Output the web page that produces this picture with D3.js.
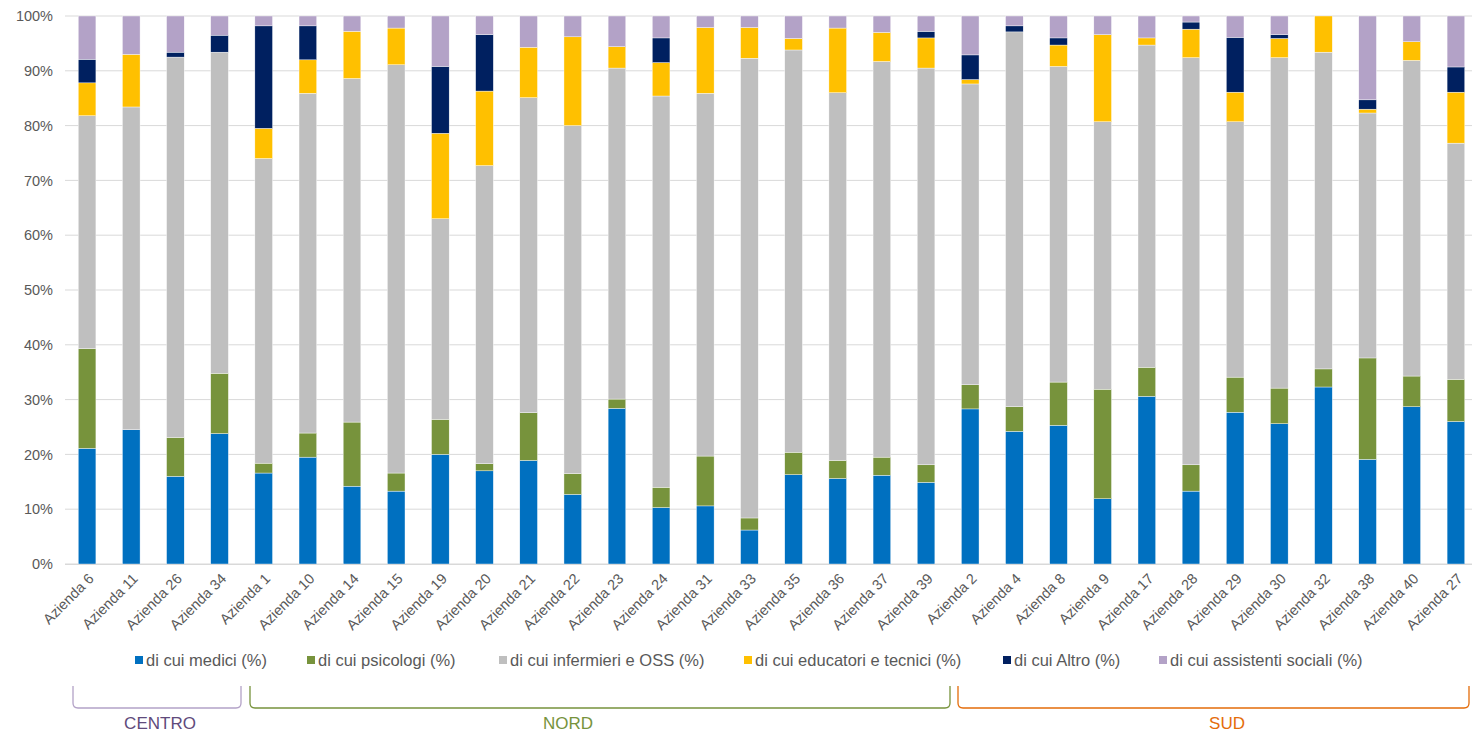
<!DOCTYPE html>
<html>
<head>
<meta charset="utf-8">
<script src="https://cdn.jsdelivr.net/npm/d3@7"></script>
<style>
  body { margin: 0; background: #fff; }
  text { font-family: "Liberation Sans", Arial, sans-serif; }
</style>
</head>
<body>
<div id="chart"></div>
<script>
// categories and series (percent of staff)
var categories = ["Azienda 6","Azienda 11","Azienda 26","Azienda 34","Azienda 1","Azienda 10","Azienda 14","Azienda 15","Azienda 19","Azienda 20","Azienda 21","Azienda 22","Azienda 23","Azienda 24","Azienda 31","Azienda 33","Azienda 35","Azienda 36","Azienda 37","Azienda 39","Azienda 2","Azienda 4","Azienda 8","Azienda 9","Azienda 17","Azienda 28","Azienda 29","Azienda 30","Azienda 32","Azienda 38","Azienda 40","Azienda 27"];
var medici     = [21.1,24.5,16.0,23.8,16.6,19.5,14.2,13.3,20.0,17.0,18.9,12.7,28.4,10.3,10.6,6.2,16.3,15.6,16.2,14.9,28.3,24.2,25.3,11.9,30.6,13.3,27.7,25.6,32.3,19.1,28.7,26.0];
var psicologi  = [18.2,0,7.1,11.0,1.8,4.4,11.7,3.3,6.4,1.3,8.7,3.8,1.7,3.7,9.1,2.2,4.1,3.3,3.3,3.2,4.4,4.5,7.9,20.0,5.3,4.8,6.4,6.5,3.3,18.5,5.6,7.7];
var infermieri = [42.5,58.9,69.4,58.6,55.6,62.0,62.7,74.5,36.6,54.4,57.5,63.5,60.4,71.4,66.2,83.9,73.4,67.1,72.2,72.4,54.9,68.4,57.6,48.8,58.8,74.3,46.6,60.3,57.8,44.7,57.6,43.1];
var educatori  = [6.0,9.6,0,0,5.5,6.1,8.6,6.7,15.6,13.6,9.2,16.2,3.9,6.1,12.0,5.6,2.1,11.8,5.3,5.5,0.8,0,3.9,15.9,1.3,5.2,5.4,3.5,6.6,0.7,3.4,9.3];
var altro      = [4.3,0,0.9,3.1,18.7,6.2,0,0,12.2,10.3,0,0,0,4.5,0,0,0,0,0,1.2,4.5,1.1,1.3,0,0,1.3,10.0,0.7,0,1.7,0,4.6];
var assistenti = [7.9,7.0,6.6,3.5,1.8,1.8,2.8,2.2,9.2,3.4,5.7,3.8,5.6,4.0,2.1,2.1,4.1,2.2,3.0,2.8,7.1,1.8,4.0,3.4,4.0,1.1,3.9,3.4,0,15.3,4.7,9.3];

var seriesNames = ["di cui medici (%)","di cui psicologi (%)","di cui infermieri e OSS (%)","di cui educatori e tecnici (%)","di cui Altro (%)","di cui assistenti sociali (%)"];
var seriesColors = ["#0070C0","#77933C","#BFBFBF","#FFC000","#002060","#B3A2C7"];
var yTicks = [0,0.1,0.2,0.3,0.4,0.5,0.6,0.7,0.8,0.9,1];

// regional groups
var groupNames = ["CENTRO","NORD","SUD"];
var groupLine = ["#B3A2C7","#77933C","#E46C0A"];
var groupText = ["#604A7B","#77933C","#E46C0A"];

var W = 1472, H = 733;
var svg = d3.select("#chart").append("svg").attr("width", W).attr("height", H);

var seriesArrays = [medici, psicologi, infermieri, educatori, altro, assistenti];
var rows = categories.map(function(c, i) {
    var r = {cat: c};
    seriesNames.forEach(function(s, k) { r[s] = seriesArrays[k][i]; });
    return r;
});

var stack = d3.stack().keys(seriesNames).offset(d3.stackOffsetExpand);
var stacked = stack(rows);

var x = d3.scaleBand().domain(categories).range([65, 1478]).paddingInner(0.6).paddingOuter(0.3);
var y = d3.scaleLinear().domain([0, 1]).range([564, 16]);

// gridlines
svg.append("g").selectAll("line").data(yTicks).enter().append("line")
    .attr("x1", 65).attr("x2", W)
    .attr("y1", function(d) { return y(d); }).attr("y2", function(d) { return y(d); })
    .attr("stroke", "#D9D9D9").attr("stroke-width", 1);

// y axis labels
var yAxis = d3.axisLeft(y).tickValues(yTicks).tickFormat(d3.format(".0%")).tickSize(0).tickPadding(12);
var ya = svg.append("g").attr("transform", "translate(65,0)").call(yAxis);
ya.select(".domain").remove();
ya.selectAll("text").style("font-size", "14.5px").attr("fill", "#595959");

// bars
svg.append("g").selectAll("g").data(stacked).enter().append("g")
    .attr("fill", function(d, i) { return seriesColors[i]; })
    .selectAll("rect").data(function(d) { return d; }).enter().append("rect")
    .attr("x", function(d) { return x(d.data.cat); })
    .attr("width", x.bandwidth())
    .attr("y", function(d) { return y(d[1]); })
    .attr("height", function(d) { return Math.max(0, y(d[0]) - y(d[1])); })
    .attr("stroke", "#ffffff").attr("stroke-width", 0.4);

// x axis
var xAxis = d3.axisBottom(x).tickSize(0).tickPadding(0);
var xa = svg.append("g").attr("transform", "translate(0,564)").call(xAxis);
xa.select(".domain").attr("stroke", "#D9D9D9").attr("d", "M65,0.5H" + W);
xa.selectAll("text")
    .style("font-size", "14.5px").attr("fill", "#595959")
    .attr("text-anchor", "end")
    .attr("dy", "0.35em")
    .attr("transform", "translate(4,12) rotate(-45)");

// legend
var legendX = [135, 307, 499, 744, 1003, 1159];
var lg = svg.append("g").selectAll("g").data(seriesNames).enter().append("g")
    .attr("transform", function(d, i) { return "translate(" + legendX[i] + ",660)"; });
lg.append("rect").attr("x", 0).attr("y", -4).attr("width", 8).attr("height", 8)
    .attr("fill", function(d, i) { return seriesColors[i]; });
lg.append("text").attr("x", 11).attr("y", 0).attr("dy", "0.35em")
    .style("font-size", "16.5px").attr("fill", "#595959")
    .text(function(d) { return d; });

// region brackets
var gb = svg.append("g").selectAll("g").data(groupNames).enter().append("g");
var bx0 = [73, 250, 958], bx1 = [241, 950, 1469], tx = [160, 568, 1227];
gb.append("path")
    .attr("d", function(d, i) {
        var a = bx0[i], b = bx1[i], t = 686, bt = 708, r = 5;
        return "M" + a + "," + t + "V" + (bt - r) + "Q" + a + "," + bt + " " + (a + r) + "," + bt +
               "H" + (b - r) + "Q" + b + "," + bt + " " + b + "," + (bt - r) + "V" + t;
    })
    .attr("fill", "none")
    .attr("stroke", function(d, i) { return groupLine[i]; })
    .attr("stroke-width", 1.3);
gb.append("text")
    .attr("x", function(d, i) { return tx[i]; })
    .attr("y", 723).attr("dy", "0.35em")
    .attr("text-anchor", "middle")
    .style("font-size", "17px")
    .attr("fill", function(d, i) { return groupText[i]; })
    .text(function(d) { return d; });
</script>
</body>
</html>
